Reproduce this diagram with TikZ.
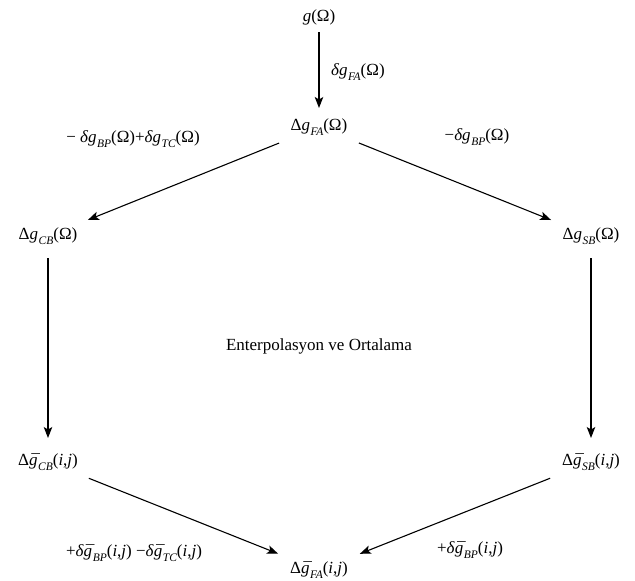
\documentclass[tikz,border=0pt]{standalone}
\usepackage{fontspec}
\setmainfont{Liberation Serif}
\usetikzlibrary{arrows.meta}
\newcommand\sbs[1]{\raisebox{-0.32em}{\fontsize{11.5}{11.5}\selectfont\itshape\kern0.05em #1}}
\newcommand\gbr{\ooalign{\itshape g\cr\hidewidth\itshape\kern0.12em\raisebox{-0.1em}{\char"00AF}\hidewidth\cr}}
\begin{document}
\begin{tikzpicture}[x=1pt,y=-1pt,
  font=\fontsize{17}{20}\selectfont,
  every node/.style={inner sep=0pt},
  arr/.style={line width=1.1pt,-{Stealth[length=11pt,width=8.5pt,inset=2.5pt]}}]
\useasboundingbox (0,0) rectangle (635,581);
\node (g) at (319,17) {\textit{g}(Ω)};
\node (dFA) at (319,127) {Δ\textit{g}\sbs{FA}(Ω)};
\node (dCB) at (48,236) {Δ\textit{g}\sbs{CB}(Ω)};
\node (dSB) at (591,236) {Δ\textit{g}\sbs{SB}(Ω)};
\node (bCB) at (48,462) {Δ\gbr\sbs{CB}(\textit{i},\textit{j})};
\node (bSB) at (591,462) {Δ\gbr\sbs{SB}(\textit{i},\textit{j})};
\node (bFA) at (319,570) {Δ\gbr\sbs{FA}(\textit{i},\textit{j})};
\node (mid) at (319,346) {Enterpolasyon ve Ortalama};
\node[anchor=west] (l1) at (331,72) {\textit{δg}\sbs{FA}(Ω)};
\node (l2) at (133,139) {− \textit{δg}\sbs{BP}(Ω)+\textit{δg}\sbs{TC}(Ω)};
\node (l3) at (477,137) {−\textit{δg}\sbs{BP}(Ω)};
\node (l4) at (134,553) {+\textit{δ}\gbr\sbs{BP}(\textit{i},\textit{j}) −\textit{δ}\gbr\sbs{TC}(\textit{i},\textit{j})};
\node (l5) at (470,550) {+\textit{δ}\gbr\sbs{BP}(\textit{i},\textit{j})};
\draw[arr,shorten <=15pt,shorten >=19pt] (g.center) -- (dFA.center);
\draw[arr,shorten <=43pt,shorten >=43pt] (dFA.center) -- (dCB.center);
\draw[arr,shorten <=43pt,shorten >=43pt] (dFA.center) -- (dSB.center);
\draw[arr,shorten <=22pt,shorten >=24pt] (dCB.center) -- (bCB.center);
\draw[arr,shorten <=22pt,shorten >=24pt] (dSB.center) -- (bSB.center);
\draw[arr,shorten <=44pt,shorten >=44pt] (bCB.center) -- (bFA.center);
\draw[arr,shorten <=44pt,shorten >=44pt] (bSB.center) -- (bFA.center);
\end{tikzpicture}
\end{document}
